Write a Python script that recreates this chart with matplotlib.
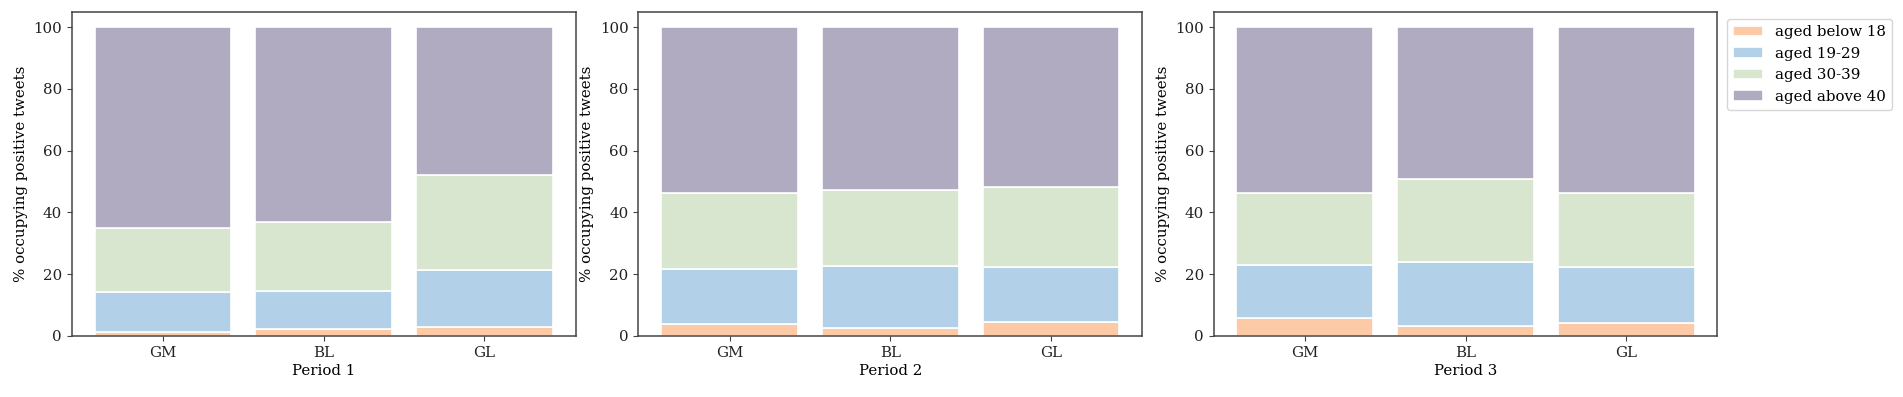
import numpy as np
import matplotlib
matplotlib.use("Agg")
import matplotlib.pyplot as plt

plt.rcParams['font.family'] = ['DejaVu Serif']
plt.rcParams['font.size'] = 10.8

# data (percent of positive tweets)
groups = ['GM', 'BL', 'GL']
periods = ['Period 1', 'Period 2', 'Period 3']
age_labels = ['aged below 18', 'aged 19-29', 'aged 30-39', 'aged above 40']

below18 = [[1.4, 2.1, 3.0],
           [4.0, 2.7, 4.5],
           [5.7, 3.2, 4.3]]
aged19_29 = [[12.7, 12.6, 18.4],
             [17.6, 20.0, 17.7],
             [17.3, 20.8, 18.0]]
aged30_39 = [[20.8, 22.3, 30.7],
             [24.8, 24.7, 25.9],
             [23.4, 26.8, 24.1]]
above40 = [[65.1, 63.0, 47.9],
           [53.6, 52.6, 51.9],
           [53.6, 49.2, 53.6]]

colors = ['#fdcaa7', '#b2d0e7', '#d9e6cf', '#b0abc1']

fig = plt.figure(figsize=(19.03, 3.97), dpi=100)
lefts = [0.0377, 0.3355, 0.6377]
w = 0.2648
bottom, height = 0.1537, 0.8168

x = np.arange(len(groups))
for p in range(3):
    ax = fig.add_axes([lefts[p], bottom, w, height])
    series = [below18[p], aged19_29[p], aged30_39[p], above40[p]]
    base = np.zeros(len(groups))
    for s, vals in enumerate(series):
        ax.bar(x, vals, width=0.85, bottom=base, color=colors[s],
               edgecolor='white', linewidth=1.2, label=age_labels[s])
        base = base + np.array(vals)
    ax.set_xticks(x)
    ax.set_xticklabels(groups)
    ax.set_ylim(0, 105)
    ax.set_yticks([0, 20, 40, 60, 80, 100])
    ax.set_xlabel(periods[p], labelpad=3)
    ax.set_ylabel('% occupying positive tweets')
    for sp in ax.spines.values():
        sp.set_color('#444444')
        sp.set_linewidth(1.1)
    ax.tick_params(colors='#444444', labelcolor='#222222')
    if p == 2:
        ax.legend(loc='upper left', bbox_to_anchor=(1.005, 1.0))

fig.savefig('out.png', dpi=100)
